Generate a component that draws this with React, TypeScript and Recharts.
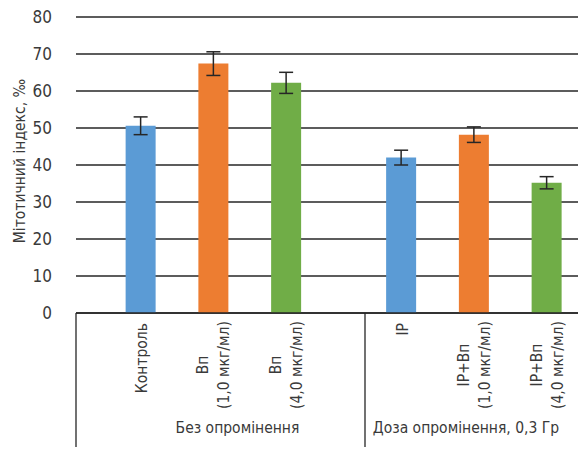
import React from 'react';
import { BarChart, Bar, XAxis, YAxis, CartesianGrid, Cell, ErrorBar } from 'recharts';

// Mitotic index (‰) per treatment, with error margins
const groupNames = ['Без опромінення', 'Доза опромінення, 0,3 Гр'];
const treatmentLines = [
  ['Контроль'],
  ['Вп', '(1,0 мкг/мл)'],
  ['Вп', '(4,0 мкг/мл)'],
  ['ІР'],
  ['ІР+Вп', '(1,0 мкг/мл)'],
  ['ІР+Вп', '(4,0 мкг/мл)'],
];
const treatmentGroup = [0, 0, 0, 1, 1, 1];
const treatmentSlot = [0, 1, 2, 0, 1, 2];
const mitoticIndex = [50.6, 67.4, 62.2, 42.0, 48.2, 35.2];
const mitoticError = [2.4, 3.2, 2.85, 2.0, 2.1, 1.65];
const yTicks = [0, 10, 20, 30, 40, 50, 60, 70, 80];
const yTitle = 'Мітотичний індекс, ‰';

// Layout (x units = pixels across the plot area)
const PLOT_W = 502;
const FIRST_CENTER = 65;
const SLOT_STEP = 72.75;
const GROUP_STEP = 260.5;
const GROUP_BOUNDS = [0, 289];
const GROUP_LABEL_X = [161.5, 390];
const SLOT_COLORS = ['#5B9BD5', '#ED7D31', '#70AD47'];
const FONT = "'Liberation Sans Narrow', 'DejaVu Sans Condensed', 'Roboto Condensed', Roboto, sans-serif";
const FS = 15.5;
const INK = '#262626';
const TEXT = '#3a3a3a';

const barX = (i: number) => FIRST_CENTER + treatmentGroup[i] * GROUP_STEP + treatmentSlot[i] * SLOT_STEP;

const data = mitoticIndex.map((v, i) => ({
  x: barX(i),
  value: v,
  err: mitoticError[i],
  color: SLOT_COLORS[treatmentSlot[i]],
}));

type TickKind = { kind: 'bar'; idx: number } | { kind: 'bound' } | { kind: 'group'; idx: number };
const tickInfo = new Map<number, TickKind>();
data.forEach((d, i) => tickInfo.set(d.x, { kind: 'bar', idx: i }));
GROUP_BOUNDS.forEach((b) => tickInfo.set(b, { kind: 'bound' }));
GROUP_LABEL_X.forEach((g, i) => tickInfo.set(g, { kind: 'group', idx: i }));
const xTicks = Array.from(tickInfo.keys()).sort((a, b) => a - b);

const AxisTick = (props: any) => {
  const { x, y, payload } = props;
  const info = tickInfo.get(payload.value);
  if (!info) return null;
  if (info.kind === 'bound') {
    return <line x1={x} x2={x} y1={y} y2={y + 134} stroke={INK} strokeWidth={1.3} />;
  }
  if (info.kind === 'group') {
    return (
      <text x={x} y={y + 115} textAnchor="middle" dominantBaseline="central" fontFamily={FONT} fontSize={FS} fill={TEXT}>
        {groupNames[info.idx]}
      </text>
    );
  }
  const lines = treatmentLines[info.idx];
  if (lines.length === 1) {
    const ty = y + 10;
    return (
      <text x={x + 1} y={ty} transform={`rotate(-90, ${x + 1}, ${ty})`} textAnchor="end" dominantBaseline="central" fontFamily={FONT} fontSize={FS} fill={TEXT}>
        {lines[0]}
      </text>
    );
  }
  const cy = y + 52;
  return (
    <g>
      {lines.map((ln, k) => {
        const lx = x - 10.5 + k * 21;
        return (
          <text key={k} x={lx} y={cy} transform={`rotate(-90, ${lx}, ${cy})`} textAnchor="middle" dominantBaseline="central" fontFamily={FONT} fontSize={FS} fill={TEXT}>
            {ln}
          </text>
        );
      })}
    </g>
  );
};

const YTitle = (props: any) => {
  const vb = props.viewBox || {};
  const cx = 20;
  const cy = (vb.y ?? 17) + (vb.height ?? 296) / 2 - 4;
  return (
    <text x={cx} y={cy} transform={`rotate(-90, ${cx}, ${cy})`} textAnchor="middle" dominantBaseline="central" fontFamily={FONT} fontSize={FS} fill={TEXT}>
      {yTitle}
    </text>
  );
};

export default function App() {
  return (
    <div style={{ position: 'absolute', left: 0, top: 0, width: 579, height: 451, background: '#fff' }}>
      <BarChart width={579} height={451} data={data} margin={{ top: 17, right: 1, bottom: 0, left: 0 }}>
        <CartesianGrid horizontal vertical={false} stroke={INK} strokeWidth={1.5} />
        <XAxis
          type="number"
          dataKey="x"
          domain={[0, PLOT_W]}
          ticks={xTicks}
          interval={0}
          height={138}
          tickLine={false}
          tickSize={0}
          tickMargin={0}
          axisLine={{ stroke: INK, strokeWidth: 1.5 }}
          tick={<AxisTick />}
        />
        <YAxis
          domain={[0, 80]}
          ticks={yTicks}
          interval={0}
          width={76}
          axisLine={false}
          tickLine={false}
          tickMargin={18}
          tick={{ fontFamily: FONT, fontSize: 17, fill: TEXT }}
          label={{ content: <YTitle /> }}
        />
        <Bar dataKey="value" barSize={30} isAnimationActive={false}>
          {data.map((d, i) => (
            <Cell key={i} fill={d.color} />
          ))}
          <ErrorBar dataKey="err" width={7} stroke={INK} strokeWidth={1.5} direction="y" />
        </Bar>
      </BarChart>
    </div>
  );
}
